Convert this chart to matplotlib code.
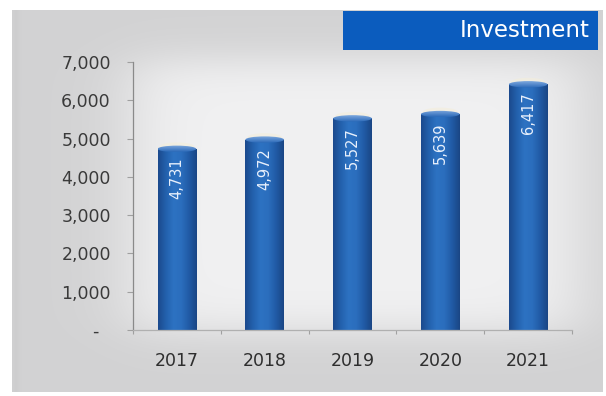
import numpy as np
import matplotlib
matplotlib.use("Agg")
import matplotlib.pyplot as plt
from matplotlib.patches import Rectangle, Ellipse
from matplotlib.colors import LinearSegmentedColormap

# ---- data ----
years = ["2017", "2018", "2019", "2020", "2021"]
investment = [4731, 4972, 5527, 5639, 6417]
y_ticks = [0, 1000, 2000, 3000, 4000, 5000, 6000, 7000]
y_tick_labels = ["-  ", "1,000", "2,000", "3,000", "4,000", "5,000", "6,000", "7,000"]
title = "Investment"

W, H = 606, 396
fig = plt.figure(figsize=(W / 100, H / 100), dpi=100)
fig.patch.set_facecolor("white")

def fx(px):
    return px / W

def fy(py):
    return 1 - py / H

# ---- grey panel with soft light centre ----
panel = fig.add_axes([fx(12), fy(392), fx(603) - fx(12), fy(10) - fy(392)], zorder=0)
panel.set_axis_off()
nx, ny = 300, 200
gx = np.linspace(0, 1, nx)[None, :]
gy = np.linspace(0, 1, ny)[:, None]  # 0 = top

def plateau(t, a, b, s):
    return 1 / (1 + np.exp(-(t - a) / s)) * 1 / (1 + np.exp((t - b) / s))

light = 0.825 + 0.12 * plateau(gx, 0.20, 0.96, 0.035) * plateau(gy, 0.13, 0.84, 0.03)
light = light - 0.02 * np.exp(-((gx - 0.005) / 0.006) ** 2)
img = np.dstack([light, light, light + 0.004])
panel.imshow(np.clip(img, 0, 1), aspect="auto", extent=[0, 1, 0, 1], interpolation="bilinear")
panel.set_xlim(0, 1)
panel.set_ylim(0, 1)

# ---- title box ----
fig.patches.append(Rectangle((fx(343), fy(50)), fx(598) - fx(343), fy(11) - fy(50),
                             transform=fig.transFigure, facecolor="#0b5cbe",
                             edgecolor="none", zorder=2))
fig.text(fx(590), fy(37), title, color="white", fontsize=16.5, ha="right",
         va="baseline", zorder=3)

# ---- main chart ----
ax = fig.add_axes([fx(133), fy(330), fx(572) - fx(133), fy(62) - fy(330)], zorder=1)
ax.patch.set_alpha(0)
xs = np.arange(len(years))
bar_w = 0.44
bars = ax.bar(xs, investment, width=bar_w, color="#2a69b8", zorder=2)

ax.set_xlim(-0.5, len(years) - 0.5)
ax.set_ylim(0, 7000)

# horizontal shading across each bar
cmap = LinearSegmentedColormap.from_list(
    "barshade", ["#1b4a8e", "#2361ad", "#2d72c2", "#2b6ebd", "#215ba6", "#1a4685"])
grad = np.linspace(0, 1, 64)[None, :]
cap_cmap = LinearSegmentedColormap.from_list("capshade", ["#2a69b8", "#7ea8de"])
for rect, v in zip(bars, investment):
    x0 = rect.get_x()
    w = rect.get_width()
    im = ax.imshow(grad, cmap=cmap, aspect="auto", extent=[x0, x0 + w, 0, v],
                   zorder=2.1, interpolation="bilinear")
    im.set_clip_path(rect)
    # soft glow above the top and a light rim on the bar top
    ax.add_patch(Ellipse((x0 + w / 2, v + 60), w * 0.9, 220, facecolor="#f4eed8",
                         edgecolor="none", alpha=0.55, zorder=1.9))
    cap = Ellipse((x0 + w / 2, v), w, 170, facecolor="none", edgecolor="none", zorder=2.2)
    ax.add_patch(cap)
    cim = ax.imshow(np.linspace(0, 1, 32)[:, None], cmap=cap_cmap, aspect="auto",
                    extent=[x0, x0 + w, v - 85, v + 85], origin="lower",
                    zorder=2.2, interpolation="bilinear")
    cim.set_clip_path(cap)

# value labels inside the bars
for x, v in zip(xs, investment):
    ax.annotate(f"{v:,}", xy=(x, v), xytext=(0, -6), textcoords="offset points",
                rotation=90, ha="center", va="top", color="#e8f0fc",
                fontsize=10.5, zorder=3)

# axes styling
for side in ["top", "right"]:
    ax.spines[side].set_visible(False)
ax.spines["left"].set_color("#8a8a8a")
ax.spines["bottom"].set_color("#b0b0b0")
ax.spines["left"].set_linewidth(0.9)
ax.spines["bottom"].set_linewidth(0.9)

ax.set_yticks(y_ticks)
ax.set_yticklabels(y_tick_labels)
ax.tick_params(axis="y", length=4, width=0.8, color="#a0a0a0", pad=12,
               labelsize=12.5, labelcolor="#3a3a3a")

# category boundary ticks, labels centred on categories
ax.set_xticks(np.arange(len(years) + 1) - 0.5)
ax.set_xticklabels([])
ax.tick_params(axis="x", which="major", length=3, width=0.8, color="#a0a0a0")
ax.set_xticks(xs, minor=True)
ax.set_xticklabels(years, minor=True)
ax.tick_params(axis="x", which="minor", length=0, pad=16, labelsize=12.5,
               labelcolor="#2e2e2e")

fig.savefig("out.png", dpi=100)
